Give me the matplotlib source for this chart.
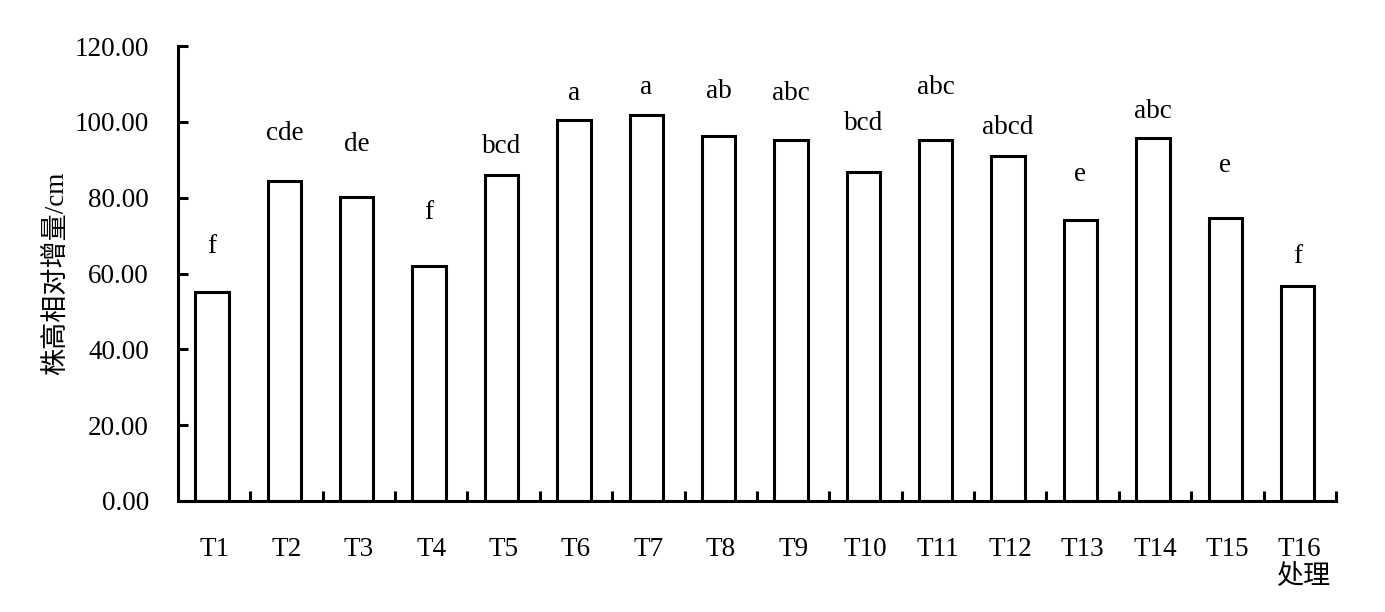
import matplotlib
matplotlib.use('Agg')
import matplotlib.pyplot as plt
import numpy as np

# 数据
treatments = ['T1', 'T2', 'T3', 'T4', 'T5', 'T6', 'T7', 'T8',
              'T9', 'T10', 'T11', 'T12', 'T13', 'T14', 'T15', 'T16']
values = [55.0, 84.4, 80.2, 62.0, 86.0, 100.5, 101.8, 96.3,
          95.2, 86.8, 95.2, 91.0, 74.1, 95.8, 74.7, 56.7]
letters = ['f', 'cde', 'de', 'f', 'bcd', 'a', 'a', 'ab',
           'abc', 'bcd', 'abc', 'abcd', 'e', 'abc', 'e', 'f']
letter_y = [67.0, 97.0, 94.0, 76.0, 93.4, 107.6, 109.0, 108.0,
            107.6, 99.5, 109.0, 98.4, 86.0, 102.6, 88.4, 64.4]

plt.rcParams['font.family'] = ['Liberation Serif', 'Noto Sans CJK SC']
plt.rcParams['font.size'] = 19.5

fig = plt.figure(figsize=(13.85, 6.12), dpi=100)
ax = fig.add_axes([0.1285, 0.1814, 0.8361, 0.7434])

x = np.arange(len(treatments))
ax.bar(x - 0.03, values, width=0.46, color='white', edgecolor='black', linewidth=2.2)

# 显著性字母
for xi, lab, ly in zip(x, letters, letter_y):
    ax.text(xi - 0.03, ly, lab, ha='center', va='center')

ax.set_xlim(-0.5, len(treatments) - 0.5)
ax.set_ylim(0, 120)
ax.set_yticks(np.arange(0, 121, 20))
ax.set_yticklabels([f'{v:.2f}' for v in np.arange(0, 121, 20)])

# x轴刻度在类别之间，标签在类别中心
ax.set_xticks(np.arange(0.5, len(treatments), 1.0))
ax.set_xticklabels([])
ax.set_xticks(x, minor=True)
ax.set_xticklabels(treatments, minor=True)
ax.tick_params(axis='x', which='major', direction='in', length=7, width=2.2)
ax.tick_params(axis='x', which='minor', length=0, pad=26)
ax.tick_params(axis='y', direction='in', length=7, width=2.2, pad=21)

for side in ['top', 'right']:
    ax.spines[side].set_visible(False)
for side in ['left', 'bottom']:
    ax.spines[side].set_linewidth(2.2)

ax.set_ylabel('株高相对增量/cm')
ax.yaxis.set_label_coords(-0.093, 0.5)
ax.set_xlabel('处理')
ax.xaxis.set_label_coords((1303 - 178) / 1158, (501 - 578) / 455)
ax.xaxis.label.set_va('center')

fig.savefig('out.png', dpi=100)
